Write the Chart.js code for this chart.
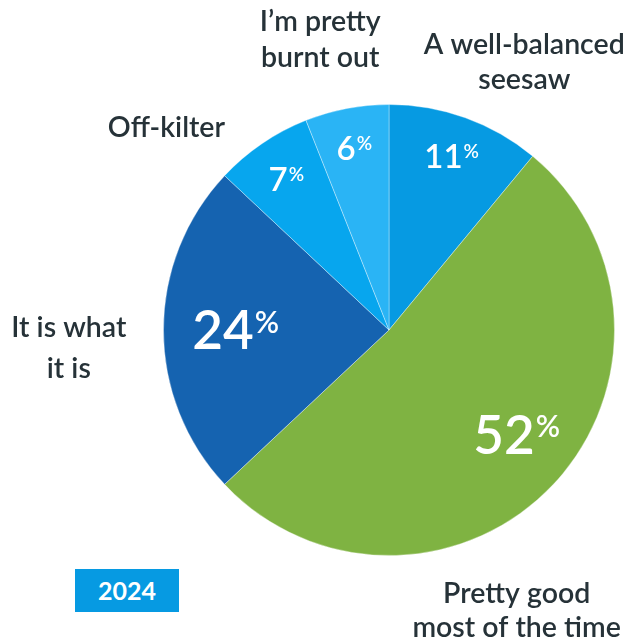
<!DOCTYPE html>
<html>
<head>
<meta charset="utf-8">
<script src="https://cdn.jsdelivr.net/npm/chart.js@4/dist/chart.umd.min.js"></script>
<style>
  html, body { margin: 0; padding: 0; background: #ffffff; }
  #wrap { position: relative; width: 631px; height: 644px; }
  #yearBox { position: absolute; left: 75px; top: 569px; width: 104px; height: 43px; background: #069ae2;
    color: #fff; font-family: Lato, sans-serif; font-weight: 700; font-size: 25px; line-height: 43px; text-align: center; }
</style>
</head>
<body>
<div id="wrap">
  <canvas id="c" width="631" height="644"></canvas>
  <div id="yearBox">2024</div>
</div>
<script>
const categories = ["A well-balanced\nseesaw", "Pretty good\nmost of the time", "It is what\nit is", "Off-kilter", "I’m pretty\nburnt out"];
const values = [11, 52, 24, 7, 6];
const colors = ["#069ae2", "#7fb342", "#1563b0", "#07a6ee", "#2ab4f5"];
const year = "2024";

// label styling/placement (relative to pie center, in units of radius)
const valueLabelRadius = [0.82, 0.733, 0.68, 0.81, 0.82];
const valueLabelAngleShift = [0, -3.8, 0, 0, 0];
const valueLabelBig = [false, true, true, false, false];
const catLabelOffset = [[0.6, -1.185], [0.566, 1.245], [-1.42, 0.08], [-0.987, -0.898], [-0.305, -1.285]];
const catLineHeight = [35, 34, 41, 35, 36];

const labelPlugin = {
  id: 'labels',
  afterDraw(chart) {
    const ctx = chart.ctx;
    const meta = chart.getDatasetMeta(0);
    const arcs = meta.data;
    const cx = arcs[0].x, cy = arcs[0].y, R = arcs[0].outerRadius;
    ctx.save();
    // value labels
    arcs.forEach((arc, i) => {
      const mid = (arc.startAngle + arc.endAngle) / 2 + valueLabelAngleShift[i] * Math.PI / 180;
      const r = R * valueLabelRadius[i];
      const x = cx + Math.cos(mid) * r;
      const y = cy + Math.sin(mid) * r;
      const big = valueLabelBig[i];
      const numSize = big ? 53 : 33;
      const pctSize = big ? 30 : 19;
      const numTxt = String(values[i]);
      ctx.font = `600 ${numSize}px Lato`;
      const nw = ctx.measureText(numTxt).width;
      ctx.font = `600 ${pctSize}px Lato`;
      const pw = ctx.measureText('%').width;
      const total = nw + pw + 1;
      const left = x - total / 2;
      ctx.fillStyle = '#ffffff';
      ctx.textBaseline = 'alphabetic';
      ctx.textAlign = 'left';
      const baseline = y + numSize * 0.36;
      ctx.font = `600 ${numSize}px Lato`;
      ctx.fillText(numTxt, left, baseline);
      ctx.font = `600 ${pctSize}px Lato`;
      const capTop = baseline - numSize * 0.72;
      ctx.fillText('%', left + nw + 1, capTop + pctSize * 0.72);
    });
    // category labels
    ctx.fillStyle = '#263238';
    ctx.textAlign = 'center';
    ctx.textBaseline = 'middle';
    ctx.font = '600 28.5px Lato';
    categories.forEach((cat, i) => {
      const lines = cat.split('\n');
      const x = cx + catLabelOffset[i][0] * R;
      const y = cy + catLabelOffset[i][1] * R;
      const lh = catLineHeight[i];
      const y0 = y - (lines.length - 1) * lh / 2;
      lines.forEach((ln, j) => ctx.fillText(ln, x, y0 + j * lh));
    });
    ctx.restore();
  }
};

new Chart(document.getElementById('c'), {
  type: 'pie',
  data: {
    labels: categories,
    datasets: [{
      data: values,
      backgroundColor: colors,
      borderColor: 'rgba(255,255,255,0.35)',
      borderWidth: 1,
      hoverOffset: 0
    }]
  },
  options: {
    responsive: false,
    animation: false,
    events: [],
    layout: { padding: { left: 163, right: 16, top: 104, bottom: 88 } },
    plugins: { legend: { display: false }, tooltip: { enabled: false } }
  },
  plugins: [labelPlugin]
});
</script>
</body>
</html>
